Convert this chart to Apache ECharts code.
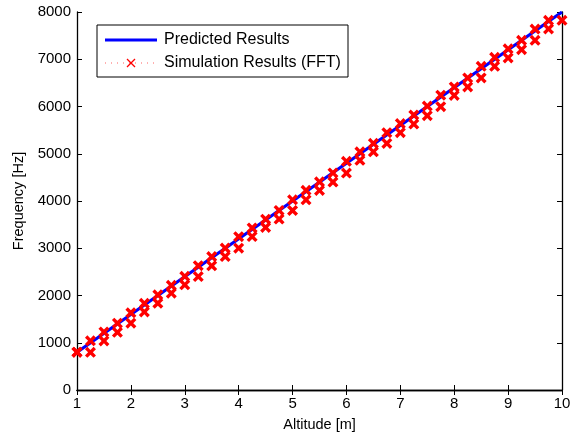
<!DOCTYPE html>
<html><head><meta charset="utf-8">
<script src="https://cdn.jsdelivr.net/npm/echarts@6/dist/echarts.min.js"></script>
<style>html,body{margin:0;padding:0;background:#fff}#c{width:578px;height:440px}</style>
</head><body><div id="c"></div>
<script>
const xTicks = [1,2,3,4,5,6,7,8,9,10];
const yTicks = [0,1000,2000,3000,4000,5000,6000,7000,8000];
const predictedAlt = [1, 10];
const predictedFreq = [800, 8000];
const simAlt = [1,1.25,1.5,1.75,2,2.25,2.5,2.75,3,3.25,3.5,3.75,4,4.25,4.5,4.75,5,5.25,5.5,5.75,6,6.25,6.5,6.75,7,7.25,7.5,7.75,8,8.25,8.5,8.75,9,9.25,9.5,9.75,10];
const simUpper = [800,1040,1230,1415,1635,1835,2015,2215,2405,2630,2825,3005,3245,3430,3615,3800,4025,4225,4405,4595,4840,5040,5220,5445,5640,5820,6010,6240,6415,6605,6850,7040,7220,7400,7640,7825,8010];
const simLower = [800,798,1038,1222,1413,1652,1836,2048,2225,2401,2627,2825,3002,3248,3440,3617,3799,4025,4223,4400,4591,4860,5042,5218,5445,5629,5805,5996,6235,6413,6604,6850,7027,7203,7400,7642,7824];

const FONT = '"Liberation Sans", Arial, sans-serif';
const XPATH = 'path://M0,2.6L2.6,0L6,3.4L9.4,0L12,2.6L8.6,6L12,9.4L9.4,12L6,8.6L2.6,12L0,9.4L3.4,6Z';

const chart = echarts.init(document.getElementById('c'), null, {renderer:'canvas'});
const simData = [];
simAlt.forEach((a,i)=>{ simData.push([a, simUpper[i]]); simData.push([a, simLower[i]]); });

const axisCommon = {
  axisLine:{show:true, lineStyle:{color:'#000', width:1.3}},
  axisTick:{show:true, inside:true, length:5, lineStyle:{color:'#000', width:1}},
  splitLine:{show:false}
};
const plain = v => String(v);
chart.setOption({
  animation:false,
  backgroundColor:'#fff',
  grid:{left:77, right:16, top:12, bottom:50, containLabel:false},
  xAxis:[
    Object.assign({type:'value', min:1, max:10, interval:1, position:'bottom',
      name:'Altitude [m]', nameLocation:'middle', nameGap:27,
      nameTextStyle:{fontFamily:FONT, fontSize:14.5, color:'#000'},
      axisLabel:{fontFamily:FONT, fontSize:15, color:'#000', margin:6, formatter:plain}}, axisCommon),
    Object.assign({type:'value', min:1, max:10, interval:1, position:'top',
      axisLabel:{show:false}}, axisCommon)
  ],
  yAxis:[
    Object.assign({type:'value', min:0, max:8000, interval:1000, position:'left',
      name:'Frequency [Hz]', nameLocation:'middle', nameGap:50,
      nameTextStyle:{fontFamily:FONT, fontSize:14.5, color:'#000'},
      axisLabel:{fontFamily:FONT, fontSize:15, color:'#000', margin:6, formatter:plain}}, axisCommon),
    Object.assign({type:'value', min:0, max:8000, interval:1000, position:'right',
      axisLabel:{show:false}}, axisCommon)
  ],
  series:[
    {type:'line', name:'Predicted Results', data: predictedAlt.map((a,i)=>[a, predictedFreq[i]]),
      showSymbol:false, symbol:'none', lineStyle:{color:'#0000ff', width:3.2}, z:2},
    {type:'scatter', name:'Simulation Results (FFT)', data: simData,
      symbol:XPATH, symbolSize:11, itemStyle:{color:'#ff0000', opacity:1}, z:3}
  ],
  graphic:[
    {type:'group', x:97, y:25, children:[
      {type:'rect', shape:{x:0,y:0,width:251,height:52}, style:{fill:'#fff', stroke:'#000', lineWidth:1}},
      {type:'line', shape:{x1:8,y1:15,x2:60,y2:15}, style:{stroke:'#0000ff', lineWidth:3}},
      {type:'text', x:67, y:15, style:{text:'Predicted Results', fontFamily:FONT, fontSize:16, fill:'#000', verticalAlign:'middle'}},
      {type:'line', shape:{x1:8,y1:38,x2:60,y2:38}, style:{stroke:'#ff6060', lineWidth:1, lineDash:[1,5]}},
      {type:'line', shape:{x1:30,y1:34,x2:38,y2:42}, style:{stroke:'#ff0000', lineWidth:1.2}},
      {type:'line', shape:{x1:38,y1:34,x2:30,y2:42}, style:{stroke:'#ff0000', lineWidth:1.2}},
      {type:'text', x:67, y:38, style:{text:'Simulation Results (FFT)', fontFamily:FONT, fontSize:16, fill:'#000', verticalAlign:'middle'}}
    ]}
  ]
});
</script></body></html>
